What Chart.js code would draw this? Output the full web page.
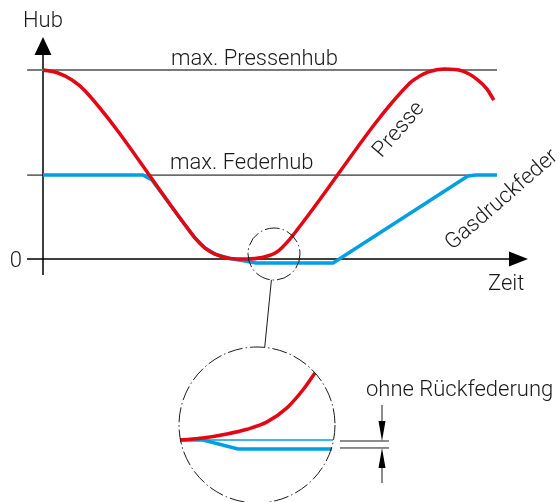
<!DOCTYPE html>
<html>
<head>
<meta charset="utf-8">
<script src="https://cdn.jsdelivr.net/npm/chart.js@4"></script>
<style>
  html, body { margin: 0; padding: 0; background: #fff; }
  #wrap { position: relative; width: 560px; height: 502px; }
</style>
</head>
<body>
<div id="wrap"><canvas id="chart"></canvas></div>
<script>
// main diagram: time (0..10) against stroke (0 = bottom, 1 = max. Pressenhub)
const presseTime = [0, 0.33, 0.64, 0.93, 3.13, 3.35, 3.57, 3.79, 4.12, 4.49, 4.82, 5.15, 5.44, 5.73, 8.08, 8.30, 8.48, 8.85, 9.23, 9.58, 9.78, 9.93];
const presseHub  = [1, 0.984, 0.947, 0.889, 0.180, 0.111, 0.058, 0.026, 0.003, 0, 0.008, 0.037, 0.106, 0.196, 0.931, 0.968, 0.989, 1.005, 0.995, 0.947, 0.899, 0.841];

const federTime = [0, 2.20, 2.40, 3.13, 3.35, 3.57, 3.79, 4.12, 4.45, 4.69, 6.39, 9.36, 9.54, 10];
const federHub  = [0.444, 0.444, 0.418, 0.180, 0.111, 0.058, 0.026, 0.003, -0.011, -0.021, -0.021, 0.439, 0.444, 0.444];

// horizontal limit lines
const limitNames = ['max. Pressenhub', 'max. Federhub'];
const limitLevels = [1, 0.444];
const limitFrom = -0.35, limitTo = 10;

// magnified detail (own units)
const detailPresseX = [0, 1.50, 3.07, 4.38, 5.69, 6.99, 8.04, 8.82];
const detailPresseY = [0, 0.03, 0.09, 0.16, 0.27, 0.48, 0.75, 1.0];
const detailOhneX = [1.5, 10];
const detailOhneY = [0, 0];
const detailFederX = [0, 1.5, 3.79, 9.93];
const detailFederY = [0, 0, -0.134, -0.134];

const yTitle = 'Hub';
const xTitle = 'Zeit';
const zeroLabel = '0';
const curveNames = ['Presse', 'Gasdruckfeder'];
const gapLabel = 'ohne Rückfederung';

const RED = '#e30613';
const BLUE = '#009fe3';
const INK = '#1a1a1a';
const FONT = '300 22px Roboto';

const W = 560, H = 502;

// range for a hidden horizontal scale so that v0 -> p0 and v1 -> p1
function xRange(v0, p0, v1, p1) {
  const k = (p1 - p0) / (v1 - v0);
  const min = v0 - p0 / k;
  return { min: min, max: min + W / k };
}
function yRange(v0, p0, v1, p1) {
  const k = (p0 - p1) / (v1 - v0);
  const min = v0 - (H - p0) / k;
  return { min: min, max: min + H / k };
}

const xr = xRange(0, 43, 10, 497);
const yr = yRange(0, 259, 1, 70);
const x2r = xRange(0, 180, 10, 333);
const y2r = yRange(0, 440, 1, 373);

const pts = (xs, ys) => xs.map((x, i) => ({ x: x, y: ys[i] }));

function arrowHead(ctx, tipX, tipY, dx, dy, len, half) {
  const bx = tipX - dx * len, by = tipY - dy * len;
  ctx.beginPath();
  ctx.moveTo(tipX, tipY);
  ctx.lineTo(bx - dy * half, by + dx * half);
  ctx.lineTo(bx + dy * half, by - dx * half);
  ctx.closePath();
  ctx.fill();
}

function rotatedText(ctx, text, x, y, deg) {
  ctx.save();
  ctx.translate(x, y);
  ctx.rotate(deg * Math.PI / 180);
  ctx.textAlign = 'center';
  ctx.textBaseline = 'middle';
  ctx.fillText(text, 0, 0);
  ctx.restore();
}

function dashCircle(ctx, cx, cy, r) {
  ctx.save();
  ctx.setLineDash([15, 3, 1.5, 3]);
  ctx.lineWidth = 1;
  ctx.strokeStyle = INK;
  ctx.beginPath();
  ctx.arc(cx, cy, r, 0, Math.PI * 2);
  ctx.stroke();
  ctx.restore();
}

const axesPlugin = {
  id: 'axes',
  beforeDatasetsDraw(chart) {
    const ctx = chart.ctx;
    const sx = chart.scales.x, sy = chart.scales.y;
    const x0 = sx.getPixelForValue(0), y0 = sy.getPixelForValue(0);
    ctx.save();
    ctx.strokeStyle = '#000';
    ctx.fillStyle = '#000';
    ctx.lineWidth = 1.5;
    ctx.beginPath();
    ctx.moveTo(27, y0); ctx.lineTo(512, y0);
    ctx.moveTo(x0, 275); ctx.lineTo(x0, 52);
    ctx.stroke();
    arrowHead(ctx, 528, y0, 1, 0, 19, 7.5);
    arrowHead(ctx, x0, 37, 0, -1, 18, 8.5);
    ctx.restore();
  },
  afterDatasetsDraw(chart) {
    const ctx = chart.ctx;
    const sy = chart.scales.y, sy2 = chart.scales.y2;
    ctx.save();
    ctx.fillStyle = INK;
    ctx.font = FONT;
    ctx.textBaseline = 'alphabetic';
    ctx.textAlign = 'left';
    ctx.fillText(yTitle, 23, 27);
    ctx.fillText(xTitle, 488, 290);
    ctx.fillText(limitNames[0], 171, sy.getPixelForValue(limitLevels[0]) - 5);
    ctx.fillText(limitNames[1], 170, sy.getPixelForValue(limitLevels[1]) - 6);
    ctx.fillText(gapLabel, 366, 396);
    ctx.textAlign = 'right';
    ctx.textBaseline = 'middle';
    ctx.fillText(zeroLabel, 22, sy.getPixelForValue(0) + 2);
    rotatedText(ctx, curveNames[0], 399, 130, -49);
    rotatedText(ctx, curveNames[1], 502, 200, -41);

    // magnifier: small circle, connector, large circle
    const c1 = { x: 274, y: 254, r: 26 };
    const c2 = { x: 257, y: 425, r: 78 };
    dashCircle(ctx, c1.x, c1.y, c1.r);
    dashCircle(ctx, c2.x, c2.y, c2.r);
    const dx = c2.x - c1.x, dy = c2.y - c1.y, d = Math.hypot(dx, dy);
    ctx.strokeStyle = INK;
    ctx.lineWidth = 1;
    ctx.beginPath();
    ctx.moveTo(c1.x + dx / d * c1.r, c1.y + dy / d * c1.r);
    ctx.lineTo(c2.x - dx / d * c2.r, c2.y - dy / d * c2.r);
    ctx.stroke();

    // dimension for the missing spring-back
    const yA = sy2.getPixelForValue(detailOhneY[0]) + 1;
    const yB = sy2.getPixelForValue(detailFederY[3]) - 1;
    ctx.beginPath();
    ctx.moveTo(340, yA); ctx.lineTo(389, yA);
    ctx.moveTo(340, yB); ctx.lineTo(389, yB);
    ctx.moveTo(382, 405); ctx.lineTo(382, yA - 10);
    ctx.moveTo(382, 483); ctx.lineTo(382, yB + 10);
    ctx.stroke();
    ctx.fillStyle = '#000';
    arrowHead(ctx, 382, yA, 0, 1, 20, 3.5);
    arrowHead(ctx, 382, yB, 0, -1, 20, 3.5);
    ctx.restore();
  }
};

const line = (data, color, width, extra) => Object.assign({
  data: data,
  showLine: true,
  borderColor: color,
  backgroundColor: color,
  borderWidth: width,
  pointRadius: 0,
  fill: false,
  clip: false,
  tension: 0
}, extra);

new Chart(document.getElementById('chart'), {
  type: 'scatter',
  data: {
    datasets: [
      line(pts(presseTime, presseHub), RED, 3.5, { order: 0, cubicInterpolationMode: 'monotone' }),
      line(pts(federTime, federHub), BLUE, 3.5, { order: 1 }),
      line(pts([limitFrom, limitTo], [limitLevels[0], limitLevels[0]]), '#7a7a7a', 2, { order: 2 }),
      line(pts([limitFrom, limitTo], [limitLevels[1], limitLevels[1]]), '#000', 1, { order: 2 }),
      line(pts(detailPresseX, detailPresseY), RED, 3.5, { order: 0, xAxisID: 'x2', yAxisID: 'y2', cubicInterpolationMode: 'monotone' }),
      line(pts(detailOhneX, detailOhneY), BLUE, 1.5, { order: 1, xAxisID: 'x2', yAxisID: 'y2' }),
      line(pts(detailFederX, detailFederY), BLUE, 3.5, { order: 1, xAxisID: 'x2', yAxisID: 'y2' })
    ]
  },
  options: {
    responsive: true,
    maintainAspectRatio: false,
    animation: false,
    layout: { padding: 0 },
    plugins: {
      legend: { display: false },
      tooltip: { enabled: false },
      title: { display: false }
    },
    scales: {
      x:  { type: 'linear', display: false, min: xr.min, max: xr.max },
      y:  { type: 'linear', display: false, min: yr.min, max: yr.max },
      x2: { type: 'linear', display: false, min: x2r.min, max: x2r.max, position: 'bottom' },
      y2: { type: 'linear', display: false, min: y2r.min, max: y2r.max, position: 'left' }
    }
  },
  plugins: [axesPlugin]
});
</script>
</body>
</html>
